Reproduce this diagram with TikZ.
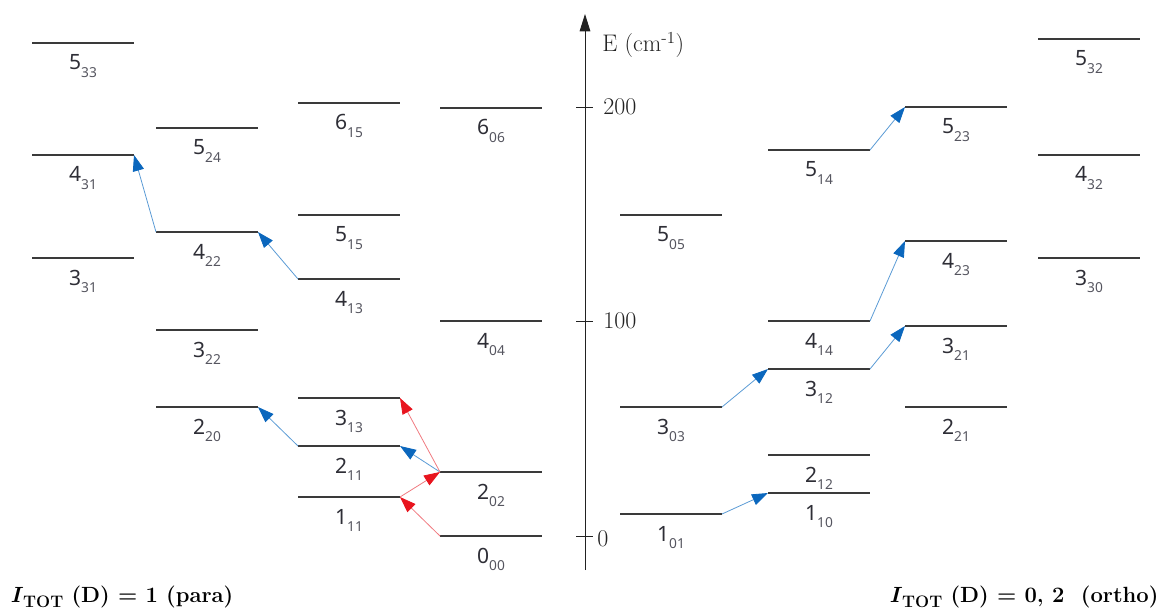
\documentclass[tikz,border=0pt]{standalone}
\usepackage{fontspec}
\newfontfamily\lblfont{Noto Sans}
\usetikzlibrary{arrows.meta}
\definecolor{lvlcol}{HTML}{3A3A3A}
\definecolor{lbltxt}{HTML}{2E2E36}
\definecolor{subtxt}{HTML}{55555F}
\definecolor{blueline}{HTML}{5B9BD5}
\definecolor{bluetip}{HTML}{0B67BD}
\definecolor{redline}{HTML}{F07A80}
\definecolor{redtip}{HTML}{E8141E}
\definecolor{axcol}{HTML}{222222}
\newcommand\lab[2]{#1\raisebox{-5.4pt}{\color{subtxt}\fontsize{10.3}{10}\selectfont #2}}
\newcommand\lev[6]{%
  \coordinate (#1l) at (#2,#4);
  \coordinate (#1r) at (#3,#4);
  \draw[levelline] (#1l) -- (#1r);
  \node[lbl] (#1t) at ({(#2+#3)/2},{#4+27}) {\lab{#5}{#6}};
}
\newcommand\itot{\textit{I}\raisebox{-4pt}{\fontsize{12.5}{13}\selectfont TOT}}
\tikzset{
  levelline/.style={draw=lvlcol, line width=1.5pt},
  lbl/.style={anchor=base, font=\lblfont\fontsize{15.8}{16}\selectfont, text=lbltxt, inner sep=0pt},
  bluearr/.style={draw=blueline, line width=0.6pt, -{Triangle[length=12pt,width=8.5pt,color=bluetip]}},
  redarr/.style={draw=redline, line width=0.6pt, -{Triangle[length=12pt,width=8.5pt,color=redtip]}},
  axisline/.style={draw=axcol, line width=0.65pt},
  ticklbl/.style={anchor=west, font=\fontsize{18}{20}\selectfont, text=axcol, inner sep=0pt},
  bottomlbl/.style={anchor=base west, font=\bfseries\fontsize{16.5}{18}\selectfont, inner sep=0pt}
}
\begin{document}
\begin{tikzpicture}[x=0.75pt, y=-0.75pt]
\useasboundingbox (0,0) rectangle (1157,613);
% axis
\coordinate (axb) at (585,570);
\coordinate (axt) at (585,14);
\draw[axisline, -{Triangle[length=13pt,width=8pt,color=axcol]}] (axb) -- (axt);
\coordinate (t0a) at (576,536); \coordinate (t0b) at (593,536);
\coordinate (t1a) at (576,321); \coordinate (t1b) at (593,321);
\coordinate (t2a) at (576,107); \coordinate (t2b) at (593,107);
\draw[axisline] (t0a) -- (t0b);
\draw[axisline] (t1a) -- (t1b);
\draw[axisline] (t2a) -- (t2b);
\node[ticklbl] (l0) at (597,539) {0};
\node[ticklbl] (l100) at (603,321) {100};
\node[ticklbl] (l200) at (603,107) {200};
\node[ticklbl] (elbl) at (602,45) {E (cm\textsuperscript{-1})};
% para levels
\lev{a533}{32}{134}{43}{5}{33}
\lev{a431}{32}{134}{155}{4}{31}
\lev{a331}{32}{134}{258}{3}{31}
\lev{b524}{156}{258}{128}{5}{24}
\lev{b422}{156}{258}{232}{4}{22}
\lev{b322}{156}{258}{330}{3}{22}
\lev{b220}{156}{258}{407}{2}{20}
\lev{c615}{298}{400}{103}{6}{15}
\lev{c515}{298}{400}{215}{5}{15}
\lev{c413}{298}{400}{279}{4}{13}
\lev{c313}{298}{400}{398}{3}{13}
\lev{c211}{298}{400}{446}{2}{11}
\lev{c111}{298}{400}{497}{1}{11}
\lev{d606}{440}{542}{108}{6}{06}
\lev{d404}{440}{542}{321}{4}{04}
\lev{d202}{440}{542}{472}{2}{02}
\lev{d000}{440}{542}{536}{0}{00}
% ortho levels
\lev{e505}{620}{722}{215}{5}{05}
\lev{e303}{620}{722}{407}{3}{03}
\lev{e101}{620}{722}{514}{1}{01}
\lev{f514}{768}{870}{150}{5}{14}
\lev{f414}{768}{870}{321}{4}{14}
\lev{f312}{768}{870}{369}{3}{12}
\lev{f212}{768}{870}{455}{2}{12}
\lev{f110}{768}{870}{493}{1}{10}
\lev{g523}{905}{1007}{107}{5}{23}
\lev{g423}{905}{1007}{241}{4}{23}
\lev{g321}{905}{1007}{326}{3}{21}
\lev{g221}{905}{1007}{407}{2}{21}
\lev{h532}{1038}{1140}{39}{5}{32}
\lev{h432}{1038}{1140}{155}{4}{32}
\lev{h330}{1038}{1140}{258}{3}{30}
% transitions
\draw[bluearr] (b422l) -- (a431r);
\draw[bluearr] (c413l) -- (b422r);
\draw[bluearr] (c211l) -- (b220r);
\draw[bluearr] (d202l) -- (c211r);
\draw[redarr] (d202l) -- (c313r);
\draw[redarr] (c111r) -- (d202l);
\draw[redarr] (d000l) -- (c111r);
\draw[bluearr] (e101r) -- (f110l);
\draw[bluearr] (e303r) -- (f312l);
\draw[bluearr] (f312r) -- (g321l);
\draw[bluearr] (f414r) -- (g423l);
\draw[bluearr] (f514r) -- (g523l);
% bottom labels
\node[bottomlbl] (para) at (10,602) {\itot\ (D) = 1 (para)};
\node[bottomlbl] (ortho) at (889,602) {\itot\ (D) = 0, 2 \ (ortho)};
\end{tikzpicture}
\end{document}
